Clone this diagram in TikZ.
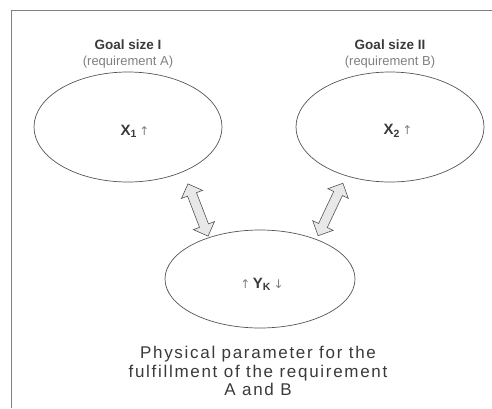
\documentclass[tikz,border=0pt]{standalone}
\usepackage{fontspec}
\setmainfont{Liberation Sans}
\newfontfamily\dejavu{DejaVu Sans}
\newfontfamily\spaced[LetterSpace=10]{Liberation Sans}
\usetikzlibrary{shapes.geometric,shapes.arrows}
\definecolor{ink}{HTML}{3A3A3A}
\definecolor{soft}{HTML}{808080}
\definecolor{lineclr}{HTML}{555555}
\tikzset{
  goal/.style={ellipse, draw=lineclr, line width=0.7pt, minimum width=188pt, minimum height=110pt, inner sep=0pt},
  title/.style={text=ink, font=\fontsize{13.5}{15}\selectfont\bfseries, inner sep=0pt},
  sub/.style={text=soft, font=\fontsize{13}{15}\selectfont, inner sep=0pt},
  var/.style={text=ink, font=\fontsize{15}{17}\selectfont\bfseries, inner sep=0pt},
  note/.style={text=ink, font=\fontsize{17}{18.5}\selectfont\spaced, align=center, inner sep=0pt},
  link/.style={double arrow, draw=lineclr, line width=0.6pt, fill=gray!18, inner xsep=0pt, inner ysep=4.5pt,
    minimum width=22pt, double arrow head extend=6.5pt, double arrow head indent=0pt},
  frame/.style={draw=soft, line width=0.8pt}
}
\newcommand{\up}{{\dejavu\fontsize{12}{12}\selectfont\mdseries\textcolor{soft}{↑}}}
\newcommand{\down}{{\dejavu\fontsize{12}{12}\selectfont\mdseries\textcolor{soft}{↓}}}
\begin{document}
\begin{tikzpicture}[x=1pt,y=-1pt]
\useasboundingbox[fill=white] (0,0) rectangle (492,408);
\coordinate (fb) at (11,408);
\coordinate (fc) at (11,10);
\coordinate (fr) at (492,10);
\draw[frame] (fb) -- (fc) -- (fr);

\node[goal] (e1) at (128,127) {};
\node[goal] (e2) at (390,127) {};
\node[goal, minimum width=190pt, minimum height=98pt] (e3) at (260,279) {};

\node[title] (t1) at (128,45) {Goal size I};
\node[sub] (s1) at (128,62) {(requirement A)};
\node[title] (t2) at (390,45) {Goal size II};
\node[sub] (s2) at (390,62) {(requirement B)};

\node[var] (x1) at (135,131) {X\textsubscript{1}\,\up};
\node[var] (x2) at (398,131) {X\textsubscript{2}\,\up};
\node[var] (yk) at (262,284) {\up\,Y\textsubscript{K}\,\down};

\node[note] (n) at (258,371) {Physical parameter for the\\fulfillment of the requirement\\A and B};

\node[link, minimum height=56pt, rotate=-69] (a1) at (198,210) {};
\node[link, minimum height=58pt, rotate=-115.3] (a2) at (330.5,209.5) {};
\end{tikzpicture}
\end{document}
